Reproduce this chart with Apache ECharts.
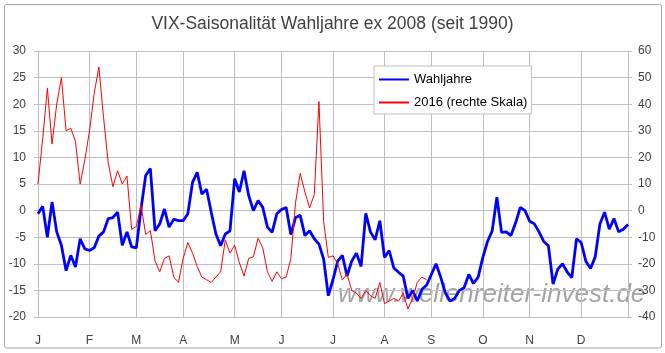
<!DOCTYPE html>
<html>
<head>
<meta charset="utf-8">
<title>VIX-Saisonalität Wahljahre</title>
<script src="https://cdn.jsdelivr.net/npm/echarts@6/dist/echarts.min.js"></script>
<style>
    html, body { margin: 0; padding: 0; background: #fff; }
    #chart { width: 665px; height: 353px; }
</style>
</head>
<body>
<div id="chart"></div>
<script>
// Handelstage in Zweierschritten (127 Punkte über das Jahr)
const days = Array.from({ length: 127 }, (_, i) => 'T' + i);
const monthStarts = [0, 11, 21, 31, 42, 52, 63, 74, 84, 95, 105, 116];
const monthLabels = ['J', 'F', 'M', 'A', 'M', 'J', 'J', 'A', 'S', 'O', 'N', 'D'];

// Wahljahre (linke Skala)
const wahljahre = [
    -0.6, 0.8, -5, 1.6, -4, -6.5, -11.3, -8.4, -10.6, -5.3,
    -7.2, -7.5, -7.0, -4.8, -4.0, -1.5, -1.3, -0.3, -6.5, -4,
    -6.8, -7, 0.3, 6.6, 7.9, -3.8, -2.5, 0.3, -3.1, -1.6,
    -1.9, -1.9, -0.6, 5.3, 7.2, 3.1, 4.0, -0.3, -4.4, -6.6,
    -4.4, -3.8, 6, 3.5, 7.5, 2.8, 0, 1.9, 0.6, -3.1,
    -4.1, -0.6, 0.2, 0.6, -4.5, -1.3, -0.9, -4.7, -3.8, -5.3,
    -6.3, -9.1, -16, -13, -9.5, -8.4, -12.3, -9.5, -8, -10.5,
    -0.5, -4, -5.5, -1.9, -8.8, -7.5, -10.8, -11.6, -12.3, -16.5,
    -15, -17, -14.8, -14, -12, -10, -12.5, -15.5, -17, -16.5,
    -15, -14.5, -12, -13.7, -12.5, -8.8, -5.8, -3.8, 2.5, -4.1,
    -4, -4.7, -2.3, 0.6, 0, -2, -2.5, -4, -5.8, -6.6,
    -13.8, -11, -10, -11.5, -12.6, -5.3, -6, -9.5, -10.9, -8.7,
    -2.5, -0.3, -3.5, -1.5, -4, -3.5, -2.6
];

// 2016 (rechte Skala), endet Anfang September
const jahr2016 = [
    10, 27, 46, 25, 40, 50, 30, 31, 26, 10,
    19, 30, 44, 54, 35, 18, 9, 15, 10, 13,
    -7, -6, 2, -9, -7.5, -19, -23, -18, -17, -25,
    -27, -18, -12, -16, -21, -25, -26, -27, -25, -23,
    -11, -16, -13, -19.6, -24.6, -18, -17.4, -10.4, -14, -23,
    -26.6, -23, -25.6, -25, -18, 3, 14, 7, 1, 6,
    41, -4, -17.6, -17, -20, -26, -24, -30, -31, -33,
    -30, -32, -33, -27, -35, -34, -33, -34, -31, -37,
    -33, -27, -25, -26
];

const gridColor = '#bfbfbf';
const textColor = '#404040';
const isMonthTick = (index) => monthStarts.indexOf(index) >= 0 || index === days.length - 1;

const chart = echarts.init(document.getElementById('chart'));

const option = {
    animation: false,
    backgroundColor: '#fff',
    textStyle: { fontFamily: 'Liberation Sans' },
    title: {
        text: 'VIX-Saisonalität Wahljahre ex 2008 (seit 1990)',
        left: 'center',
        top: 10,
        textStyle: { fontSize: 17.5, fontWeight: 'normal', color: textColor, fontFamily: 'Liberation Sans' }
    },
    legend: {
        orient: 'vertical',
        left: 374,
        top: 66,
        itemWidth: 30,
        itemHeight: 12,
        itemGap: 10,
        padding: [7, 4, 5, 4],
        borderColor: gridColor,
        borderWidth: 1,
        backgroundColor: '#fff',
        itemStyle: { opacity: 0 },
        textStyle: { fontSize: 13, color: '#000', fontFamily: 'Liberation Sans' },
        data: ['Wahljahre', '2016 (rechte Skala)']
    },
    grid: { left: 38, right: 37, top: 51, bottom: 36 },
    xAxis: {
        type: 'category',
        boundaryGap: false,
        data: days,
        axisLine: { lineStyle: { color: gridColor } },
        axisTick: { show: true, interval: isMonthTick, length: 4, lineStyle: { color: gridColor } },
        splitLine: { show: true, interval: isMonthTick, lineStyle: { color: gridColor } },
        axisLabel: {
            interval: (index) => monthStarts.indexOf(index) >= 0,
            formatter: (value, index) => {
                const m = monthStarts.indexOf(index);
                return m >= 0 ? monthLabels[m] : '';
            },
            margin: 18,
            fontSize: 12,
            color: textColor
        }
    },
    yAxis: [
        {
            type: 'value',
            min: -20,
            max: 30,
            interval: 5,
            axisLine: { show: true, lineStyle: { color: gridColor } },
            axisTick: { show: true, length: 4, lineStyle: { color: gridColor } },
            splitLine: { show: true, lineStyle: { color: gridColor } },
            axisLabel: { margin: 12, fontSize: 12, color: textColor }
        },
        {
            type: 'value',
            position: 'right',
            min: -40,
            max: 60,
            interval: 10,
            axisLine: { show: true, lineStyle: { color: gridColor } },
            axisTick: { show: true, length: 4, lineStyle: { color: gridColor } },
            splitLine: { show: false },
            axisLabel: { margin: 10, fontSize: 12, color: textColor }
        }
    ],
    graphic: [
        {
            type: 'rect',
            z: -1,
            shape: { x: 4.5, y: 4.5, width: 657, height: 343.5, r: 2 },
            style: { fill: 'none', stroke: '#a6a6a6', lineWidth: 1 },
            silent: true
        },
        {
            type: 'text',
            z: 0,
            left: 338,
            top: 282,
            style: {
                text: 'www.wellenreiter-invest.de',
                font: 'italic 26px "Liberation Sans"',
                fill: 'rgba(140,140,140,0.8)'
            },
            silent: true
        }
    ],
    series: [
        {
            name: 'Wahljahre',
            type: 'line',
            yAxisIndex: 0,
            data: wahljahre,
            symbol: 'none',
            lineStyle: { width: 2.8, color: '#0000ff' },
            itemStyle: { color: '#0000ff' },
            z: 3
        },
        {
            name: '2016 (rechte Skala)',
            type: 'line',
            yAxisIndex: 1,
            data: jahr2016,
            symbol: 'none',
            lineStyle: { width: 1, color: '#ff0000' },
            itemStyle: { color: '#ff0000' },
            z: 4
        }
    ]
};

chart.setOption(option);
</script>
</body>
</html>
